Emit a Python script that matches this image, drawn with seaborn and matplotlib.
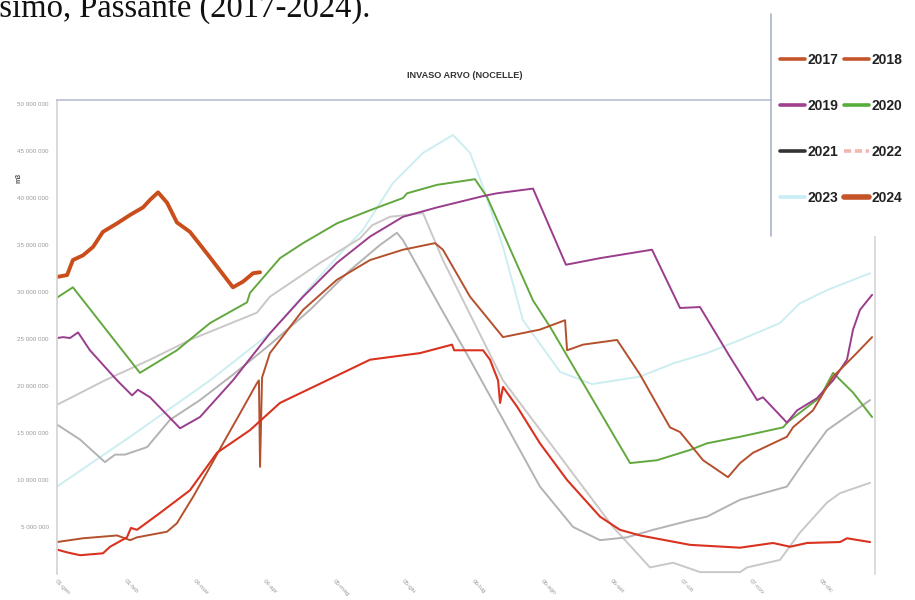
import matplotlib
matplotlib.use("Agg")
import matplotlib.pyplot as plt
from matplotlib.lines import Line2D
from matplotlib.patches import Rectangle
from matplotlib.ticker import FuncFormatter
import pandas as pd
import seaborn as sns

sns.set_theme(style="white")
plt.rcParams["font.family"] = ["Liberation Sans", "DejaVu Sans"]

# Volume stored in the Arvo reservoir (millions of m3) by day of year
day_2017 = [0, 4.5, 10.3, 20.5, 23.7, 31.2, 33.0, 35.7, 46.0, 59.3, 71.4, 86.1, 99.5, 120.5,
            139.7, 162.0, 176.3, 177.2, 190.1, 193.2, 196.8, 197.7, 199.0, 205.3, 215.5,
            227.6, 242.3, 251.2, 260.2, 282.5, 304.8, 319.5, 327.1, 334.7, 349.4, 352.5, 362.8]
vol_2017 = [2.6, 2.3, 2.0, 2.2, 2.9, 3.9, 4.9, 4.7, 6.5, 8.9, 12.9, 15.3, 18.2, 20.6,
            22.8, 23.5, 24.4, 23.8, 23.8, 22.8, 20.6, 18.2, 19.9, 17.8, 13.9,
            10.0, 6.1, 4.7, 4.1, 3.1, 2.8, 3.3, 2.9, 3.3, 3.4, 3.8, 3.4]

day_2018 = [0, 11.6, 26.8, 32.6, 35.7, 49.1, 53.5, 60.7, 68.3, 74.1, 81.7, 89.2, 90.1, 90.6,
            91.5, 95.0, 109.8, 124.9, 139.7, 154.4, 168.7, 172.2, 184.3, 199.0, 215.5, 226.7,
            227.6, 234.7, 249.9, 260.2, 273.5, 278.0, 288.3, 299.4, 304.8, 310.6, 325.7,
            328.4, 337.3, 346.3, 355.2, 363.7]
vol_2018 = [3.4, 3.8, 4.1, 3.6, 3.9, 4.5, 5.4, 8.2, 11.4, 13.9, 17.1, 20.3, 20.6, 11.4,
            20.9, 23.5, 28.1, 31.3, 33.4, 34.5, 35.2, 34.5, 29.5, 25.2, 26.0, 27.0,
            23.8, 24.4, 24.9, 21.2, 15.6, 15.1, 12.1, 10.3, 11.8, 12.9, 14.6,
            15.6, 17.4, 21.0, 23.1, 25.2]

day_2019 = [0, 2.7, 5.8, 9.4, 14.7, 26.8, 33.5, 36.1, 41.5, 54.9, 63.8, 78.5, 95.0, 109.8,
            124.9, 139.7, 154.4, 169.6, 190.1, 196.3, 212.4, 227.1, 242.3, 265.5, 278.0,
            286.9, 300.3, 312.4, 315.0, 325.7, 330.2, 339.1, 346.3, 352.5, 355.2, 358.3, 363.7]
vol_2019 = [25.1, 25.2, 25.1, 25.7, 23.8, 20.6, 19.0, 19.6, 18.8, 15.5, 16.7, 20.6, 25.6, 29.5,
            33.1, 35.9, 38.0, 39.0, 40.2, 40.5, 41.0, 32.9, 33.6, 34.5, 28.3,
            28.4, 23.1, 18.5, 18.8, 16.1, 17.4, 18.7, 20.6, 22.8, 26.0, 28.1, 29.7]

day_2020 = [0, 7.1, 37.0, 53.5, 68.3, 84.8, 86.1, 99.5, 109.8, 124.9, 139.7, 154.4, 156.2,
            169.6, 186.5, 191.9, 212.4, 220.0, 255.7, 267.7, 282.5, 290.0, 304.8, 324.0,
            326.2, 340.5, 346.3, 355.2, 363.7]
vol_2020 = [29.4, 30.5, 21.4, 23.8, 26.7, 28.9, 29.9, 33.6, 35.2, 37.3, 38.7, 40.0, 40.5,
            41.4, 42.0, 40.1, 29.1, 26.3, 11.8, 12.1, 13.2, 13.9, 14.6, 15.6,
            16.2, 18.8, 21.4, 19.3, 16.7]

day_2021 = [0, 10.3, 21.4, 25.9, 30.3, 40.2, 50.4, 63.8, 78.5, 95.0, 112.9, 130.7, 144.1,
            151.7, 154.4, 171.0, 184.3, 215.5, 230.3, 242.3, 254.3, 266.0, 282.5, 290.0,
            304.8, 325.7, 334.7, 343.6, 362.8]
vol_2021 = [15.9, 14.3, 11.9, 12.7, 12.7, 13.5, 16.4, 18.5, 21.2, 24.4, 28.1, 32.3, 35.0,
            36.3, 35.5, 28.4, 22.8, 9.3, 5.0, 3.6, 3.9, 4.7, 5.7, 6.1,
            7.9, 9.3, 12.4, 15.3, 18.5]

day_2022 = [0, 21.4, 41.5, 59.3, 89.2, 95.0, 117.4, 135.2, 140.6, 148.6, 163.3, 172.2, 199.0,
            248.1, 264.6, 274.9, 287.0, 304.8, 307.9, 322.6, 331.5, 343.6, 349.4, 362.8]
vol_2022 = [18.0, 20.6, 22.8, 24.9, 27.8, 29.5, 33.1, 35.7, 37.1, 38.0, 38.4, 33.4, 20.6,
            5.0, 0.7, 1.2, 0.2, 0.2, 0.7, 1.5, 4.4, 7.6, 8.6, 9.7]

day_2023 = [0, 32.6, 68.3, 95.0, 112.9, 124.9, 136.5, 149.9, 163.3, 176.7, 184.3, 190.1,
            199.0, 207.9, 224.5, 238.7, 260.2, 274.9, 290.0, 304.8, 322.6, 331.5, 343.6, 362.8]
vol_2023 = [9.3, 14.6, 20.6, 25.6, 30.5, 33.7, 36.6, 41.6, 44.8, 46.7, 44.8, 41.2,
            34.8, 27.0, 21.5, 20.2, 21.0, 22.4, 23.5, 24.9, 26.7, 28.8, 30.2, 32.0]

day_2024 = [0, 4.5, 7.1, 11.6, 16.1, 20.5, 26.8, 32.6, 38.4, 41.5, 45.1, 49.1, 53.5, 59.3,
            66.9, 78.5, 83.0, 87.5, 90.6]
vol_2024 = [31.6, 31.8, 33.4, 33.9, 34.8, 36.4, 37.3, 38.2, 39.0, 39.8, 40.6, 39.5, 37.4, 36.4,
            34.1, 30.5, 31.1, 32.0, 32.1]

years = ["2017", "2018", "2019", "2020", "2021", "2022", "2023", "2024"]
tick_days = [0, 31, 62, 93, 124, 155, 186, 217, 248, 279, 310, 341]
tick_labels = ["01-gen", "01-feb", "04-mar", "04-apr", "05-mag", "05-giu",
               "06-lug", "06-ago", "06-set", "07-ott", "07-nov", "08-dic"]

series = {
    "2017": (day_2017, vol_2017), "2018": (day_2018, vol_2018),
    "2019": (day_2019, vol_2019), "2020": (day_2020, vol_2020),
    "2021": (day_2021, vol_2021), "2022": (day_2022, vol_2022),
    "2023": (day_2023, vol_2023), "2024": (day_2024, vol_2024),
}
frames = [pd.DataFrame({"giorno": d, "volume": v, "anno": y}) for y, (d, v) in series.items()]
data = pd.concat(frames, ignore_index=True)

line_colors = {"2017": "#d9321f", "2018": "#b5502c", "2019": "#9a3d8c", "2020": "#62a83e",
               "2021": "#b3b3b3", "2022": "#cbc7c7", "2023": "#cdeef1", "2024": "#c94e1c"}
line_widths = {"2017": 1.5, "2018": 1.4, "2019": 1.4, "2020": 1.4,
               "2021": 1.4, "2022": 1.4, "2023": 1.4, "2024": 2.8}
draw_order = ["2023", "2022", "2021", "2020", "2019", "2018", "2017", "2024"]

W, H = 915, 600
fig = plt.figure(figsize=(W / 100, H / 100), dpi=100)
ax = fig.add_axes([57 / W, 1 - 574 / H, (875 - 57) / W, (574 - 100) / H])

for y in draw_order:
    sub = data[data["anno"] == y]
    sns.lineplot(data=sub, x="giorno", y="volume", ax=ax, color=line_colors[y],
                 linewidth=line_widths[y], estimator=None, sort=False, legend=False)

ax.set_xlim(0, 365)
ax.set_ylim(0, (574 - 100) / 9.4)
ax.set_yticks([5, 10, 15, 20, 25, 30, 35, 40, 45, 50])
ax.yaxis.set_major_formatter(FuncFormatter(lambda v, p: f"{int(round(v * 1e6)):,}".replace(",", " ")))
ax.set_xticks(tick_days)
ax.set_xticklabels(tick_labels, rotation=-45, ha="left", rotation_mode="anchor")
ax.tick_params(axis="both", length=0, labelsize=4.5, colors="#9a9a9a")
ax.tick_params(axis="x", pad=3)
ax.tick_params(axis="y", pad=6)
ax.set_xlabel("")
ax.set_ylabel("")
ax.grid(False)
ax.spines["bottom"].set_visible(False)
ax.spines["left"].set_color("#d2d2d2")
ax.spines["right"].set_color("#d6d6d6")
ax.spines["top"].set_color("#b8bfd3")
for s in ["left", "right", "top"]:
    ax.spines[s].set_linewidth(1.2)

fig.text(465 / W, 1 - 75 / H, "INVASO ARVO (NOCELLE)", ha="center", va="center",
         fontsize=6.6, fontweight="bold", color="#333333")
fig.text(19 / W, 1 - 178 / H, "m3", ha="center", va="center", rotation=90,
         fontsize=5, fontweight="bold", color="#555555")

# Legend panel sitting over the top-right corner of the plot
fig.add_artist(Rectangle((772 / W, 1 - 236 / H), 1 - 772 / W, 236 / H,
                         transform=fig.transFigure, facecolor="white", edgecolor="none", zorder=5))
fig.add_artist(Line2D([771 / W, 771 / W], [1 - 236 / H, 1 - 14 / H],
                      transform=fig.transFigure, color="#aab3cb", linewidth=1.2, zorder=6))

legend_colors = {"2017": "#c4542a", "2018": "#c4542a", "2019": "#a0418f", "2020": "#56ad3c",
                 "2021": "#333333", "2022": "#f2b7af", "2023": "#c8eef3", "2024": "#c4542a"}
legend_styles = {"2022": (0, (2, 1))}
legend_order = ["2017", "2019", "2021", "2023", "2018", "2020", "2022", "2024"]
handles = [Line2D([], [], color=legend_colors[y], linewidth=4.0 if y == "2024" else 2.6,
                  linestyle=legend_styles.get(y, "-")) for y in legend_order]
leg = fig.legend(handles, legend_order, loc="upper left", bbox_to_anchor=(780 / W, 1 - 53 / H),
                 ncol=2, frameon=False, handlelength=1.8, handletextpad=0.15,
                 columnspacing=0.45, labelspacing=2.3, borderpad=0, borderaxespad=0,
                 prop={"weight": "bold", "size": 10})
leg.set_zorder(7)
for t in leg.get_texts():
    t.set_color("#222222")

fig.text(370 / W, 1 - 17 / H, "Massimo, Passante (2017-2024).", ha="right", va="baseline",
         fontsize=23.5, family=["Liberation Serif", "DejaVu Serif"], color="#111111")

fig.savefig("out.png", dpi=100, facecolor="white")
